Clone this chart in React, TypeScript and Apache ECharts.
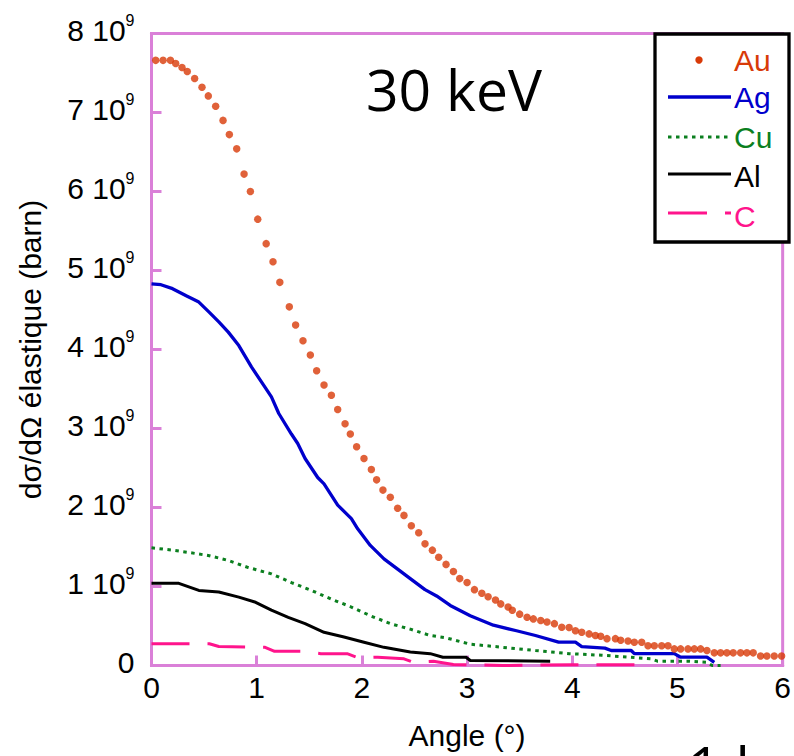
import React, { useEffect, useRef } from "react";
import * as echarts from "echarts";

// Values in units of 10^9 barn, angles in degrees
const auAngle = [0.04, 0.11, 0.18, 0.23, 0.29, 0.34, 0.41, 0.48, 0.54, 0.61, 0.68, 0.74, 0.81, 0.88, 0.94, 1.01, 1.09, 1.155, 1.22, 1.31, 1.37, 1.44, 1.51, 1.57, 1.64, 1.71, 1.77, 1.84, 1.89, 1.95, 2.02, 2.09, 2.14, 2.2, 2.27, 2.34, 2.4, 2.47, 2.54, 2.6, 2.67, 2.73, 2.8, 2.87, 2.93, 3.0, 3.07, 3.14, 3.2, 3.27, 3.32, 3.39, 3.43, 3.5, 3.57, 3.63, 3.7, 3.76, 3.83, 3.9, 3.97, 4.03, 4.09, 4.16, 4.22, 4.27, 4.33, 4.41, 4.46, 4.53, 4.59, 4.66, 4.72, 4.78, 4.85, 4.91, 4.97, 5.03, 5.1, 5.16, 5.22, 5.28, 5.35, 5.41, 5.47, 5.53, 5.6, 5.66, 5.72, 5.79, 5.85, 5.92, 5.99];
const auValue = [7.66, 7.66, 7.66, 7.62, 7.57, 7.52, 7.43, 7.32, 7.21, 7.08, 6.9, 6.72, 6.54, 6.22, 6.0, 5.65, 5.34, 5.11, 4.85, 4.54, 4.31, 4.11, 3.93, 3.73, 3.55, 3.42, 3.24, 3.06, 2.93, 2.77, 2.62, 2.48, 2.35, 2.22, 2.13, 1.99, 1.9, 1.77, 1.68, 1.54, 1.46, 1.37, 1.28, 1.19, 1.1, 1.05, 0.96, 0.915, 0.87, 0.83, 0.78, 0.74, 0.7, 0.65, 0.61, 0.59, 0.57, 0.55, 0.53, 0.485, 0.48, 0.44, 0.42, 0.4, 0.38, 0.37, 0.34, 0.34, 0.32, 0.31, 0.295, 0.295, 0.25, 0.25, 0.25, 0.25, 0.21, 0.21, 0.21, 0.21, 0.21, 0.19, 0.16, 0.16, 0.16, 0.16, 0.16, 0.16, 0.16, 0.12, 0.12, 0.12, 0.12];

const agAngle = [0.0, 0.09, 0.2, 0.33, 0.45, 0.55, 0.64, 0.73, 0.83, 0.95, 1.08, 1.14, 1.21, 1.33, 1.39, 1.46, 1.58, 1.64, 1.77, 1.9, 1.96, 2.08, 2.21, 2.34, 2.46, 2.6, 2.71, 2.84, 3.03, 3.25, 3.47, 3.65, 3.87, 4.03, 4.09, 4.31, 4.37, 4.56, 4.59, 4.97, 5.03, 5.28, 5.35];
const agValue = [4.83, 4.82, 4.77, 4.68, 4.6, 4.47, 4.35, 4.22, 4.05, 3.78, 3.52, 3.4, 3.19, 2.93, 2.81, 2.62, 2.38, 2.3, 2.03, 1.86, 1.73, 1.52, 1.35, 1.22, 1.1, 0.96, 0.88, 0.76, 0.63, 0.51, 0.44, 0.38, 0.295, 0.295, 0.24, 0.22, 0.19, 0.19, 0.15, 0.15, 0.105, 0.105, 0.04];

const cuAngle = [0.0, 0.2, 0.36, 0.55, 0.73, 0.92, 1.14, 1.33, 1.52, 1.71, 1.9, 2.08, 2.27, 2.46, 2.65, 2.8, 3.03, 3.34, 3.65, 3.97, 4.28, 4.59, 4.75, 4.81, 5.1, 5.28, 5.33, 5.41];
const cuValue = [1.49, 1.46, 1.43, 1.39, 1.33, 1.24, 1.16, 1.05, 0.95, 0.84, 0.74, 0.63, 0.53, 0.46, 0.38, 0.35, 0.27, 0.23, 0.19, 0.15, 0.13, 0.1, 0.085, 0.055, 0.055, 0.04, 0.0, 0.0];

const alAngle = [0.0, 0.26, 0.45, 0.64, 0.83, 0.99, 1.14, 1.3, 1.46, 1.64, 1.83, 2.02, 2.21, 2.46, 2.65, 2.77, 2.99, 3.03, 3.79];
const alValue = [1.04, 1.04, 0.95, 0.93, 0.865, 0.8, 0.7, 0.61, 0.53, 0.42, 0.36, 0.295, 0.23, 0.17, 0.15, 0.105, 0.105, 0.063, 0.055];

const cAngle = [0.0, 0.55, 0.64, 1.08, 1.17, 1.42, 1.61, 1.86, 1.96, 2.15, 2.4, 2.49, 2.68, 2.87, 3.34, 4.0, 4.6];
const cValue = [0.275, 0.275, 0.24, 0.23, 0.18, 0.18, 0.15, 0.15, 0.1, 0.105, 0.085, 0.04, 0.055, 0.013, 0.0, 0.01, 0.01];

const seriesNames = ["Au", "Ag", "Cu", "Al", "C"];
const yTicks = [0, 1, 2, 3, 4, 5, 6, 7, 8];
const title = "30 keV";
const bottomText = "1 keV";

const AU = "#D83A08";
const AG = "#0000CC";
const CU = "#0B7F1F";
const AL = "#000000";
const CC = "#FF148C";
const AXIS = "#DA80D8";
const FONT = "Liberation Sans, Arial, sans-serif";

const zip = (a: number[], b: number[]) => a.map((x, i) => [x, b[i]]);

export default function App() {
  const ref = useRef<HTMLDivElement>(null);
  useEffect(() => {
    document.body.style.margin = "0";
    const chart = echarts.init(ref.current!, null, { renderer: "svg" });
    const legendX1 = 668;
    const legendX2 = 731;
    const textX = 734;
    const rows = [60.5, 97, 137.5, 176.5, 216];
    const lineRows = [60, 97, 137, 174, 213];
    const colors = [AU, AG, CU, AL, CC];
    const legendGraphics: any[] = [
      {
        type: "rect",
        z: 100,
        shape: { x: 655, y: 34, width: 134, height: 208 },
        style: { fill: "#fff", stroke: "#000", lineWidth: 3.3 },
      },
      {
        type: "circle",
        z: 101,
        shape: { cx: 699, cy: lineRows[0], r: 3.7 },
        style: { fill: AU },
      },
      {
        type: "line",
        z: 101,
        shape: { x1: legendX1, y1: lineRows[1], x2: legendX2, y2: lineRows[1] },
        style: { stroke: AG, lineWidth: 3.3 },
      },
      {
        type: "line",
        z: 101,
        shape: { x1: legendX1, y1: lineRows[2], x2: 728, y2: lineRows[2] },
        style: { stroke: CU, lineWidth: 3, lineDash: [3.5, 4.5] },
      },
      {
        type: "line",
        z: 101,
        shape: { x1: legendX1, y1: lineRows[3], x2: legendX2, y2: lineRows[3] },
        style: { stroke: AL, lineWidth: 3 },
      },
      {
        type: "line",
        z: 101,
        shape: { x1: legendX1, y1: lineRows[4], x2: legendX2, y2: lineRows[4] },
        style: { stroke: CC, lineWidth: 3, lineDash: [39, 18] },
      },
      ...seriesNames.map((n, i) => ({
        type: "text",
        z: 101,
        x: textX,
        y: rows[i],
        style: {
          text: n,
          fill: colors[i],
          font: `30px ${FONT}`,
          textAlign: "left",
          textVerticalAlign: "middle",
        },
      })),
      {
        type: "text",
        z: 101,
        x: 366,
        y: 89,
        style: {
          text: title,
          fill: "#000",
          font: "57px 'Open Sans', sans-serif",
          textAlign: "left",
          textVerticalAlign: "middle",
        },
      },
      {
        type: "text",
        z: 101,
        x: 688,
        y: 737,
        style: {
          text: bottomText,
          fill: "#000",
          font: "57px 'Open Sans', sans-serif",
          textAlign: "left",
          textVerticalAlign: "top",
        },
      },
    ];

    chart.setOption({
      animation: false,
      backgroundColor: "#fff",
      grid: {
        left: 151.5,
        right: 5,
        top: 33.5,
        bottom: 90.5,
        show: true,
        borderColor: AXIS,
        borderWidth: 3,
        backgroundColor: "transparent",
      },
      xAxis: {
        type: "value",
        min: 0,
        max: 6,
        interval: 1,
        name: "Angle (°)",
        nameLocation: "middle",
        nameGap: 55,
        nameTextStyle: { fontFamily: FONT, fontSize: 30, color: "#000" },
        axisLine: { show: true, lineStyle: { color: AXIS, width: 3 } },
        axisTick: { show: true, inside: true, length: 10, lineStyle: { color: AXIS, width: 3 } },
        axisLabel: { margin: 7, fontSize: 30, fontFamily: FONT, color: "#000" },
        splitLine: { show: false },
      },
      yAxis: {
        type: "value",
        min: yTicks[0],
        max: yTicks[yTicks.length - 1],
        interval: 1,
        name: "dσ/dΩ élastique (barn)",
        nameLocation: "middle",
        nameRotate: 90,
        nameGap: 106,
        nameTextStyle: { fontFamily: FONT, fontSize: 30, color: "#000" },
        axisLine: { show: true, lineStyle: { color: AXIS, width: 3 } },
        axisTick: { show: true, inside: true, length: 10, lineStyle: { color: AXIS, width: 3 } },
        axisLabel: {
          margin: 17,
          padding: [0, 0, 9, 0],
          formatter: (v: number) => (v === 0 ? "{z|0}" : `{a|${v} 10}{s|9}`),
          rich: {
            a: { fontSize: 30, fontFamily: FONT, color: "#000", padding: [3, 0, 0, 0], verticalAlign: "bottom" },
            s: { fontSize: 16, fontFamily: FONT, color: "#000", verticalAlign: "top" },
            z: { fontSize: 30, fontFamily: FONT, color: "#000", padding: [3, 0, 0, 0], verticalAlign: "bottom" },
          },
        },
        splitLine: { show: false },
      },
      graphic: legendGraphics,
      series: [
        {
          name: "Au",
          type: "scatter",
          symbol: "circle",
          symbolSize: 7.5,
          itemStyle: { color: AU },
          data: zip(auAngle, auValue),
          z: 5,
        },
        {
          name: "Ag",
          type: "line",
          showSymbol: false,
          symbol: "none",
          lineStyle: { color: AG, width: 3.3 },
          data: zip(agAngle, agValue),
        },
        {
          name: "Cu",
          type: "line",
          showSymbol: false,
          symbol: "none",
          lineStyle: { color: CU, width: 3, type: [3.5, 4.5] },
          data: zip(cuAngle, cuValue),
        },
        {
          name: "Al",
          type: "line",
          showSymbol: false,
          symbol: "none",
          lineStyle: { color: AL, width: 3 },
          data: zip(alAngle, alValue),
        },
        {
          name: "C",
          type: "line",
          showSymbol: false,
          symbol: "none",
          lineStyle: { color: CC, width: 3, type: [38, 18] },
          data: zip(cAngle, cValue),
        },
      ],
    });
    return () => chart.dispose();
  }, []);
  return <div ref={ref} style={{ width: 794, height: 756 }} />;
}
